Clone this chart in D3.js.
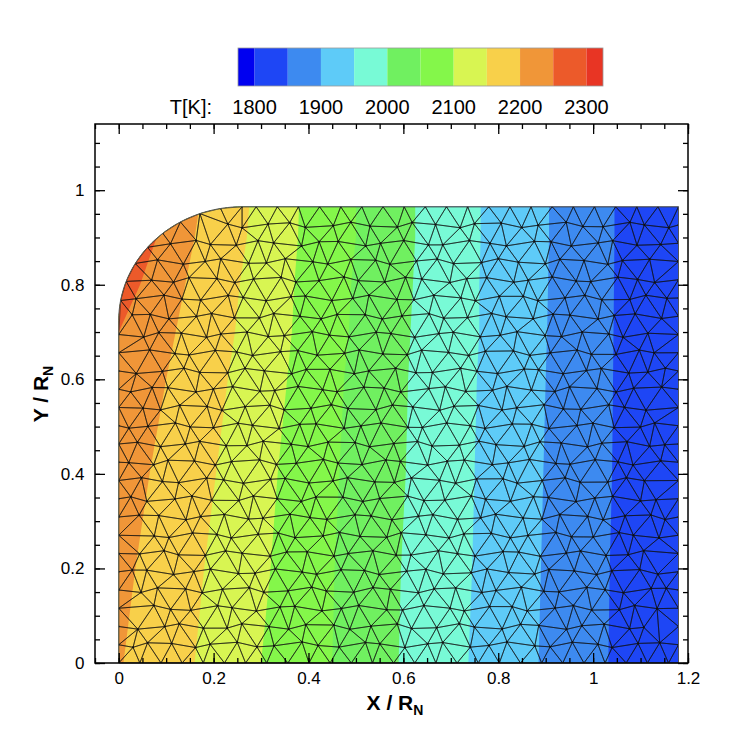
<!DOCTYPE html>
<html><head><meta charset="utf-8">
<script src="https://cdn.jsdelivr.net/npm/d3@7"></script>
<style>body{margin:0;background:#fff}svg{font-family:"Liberation Sans",Arial,sans-serif}</style>
</head><body><svg width="750" height="734"></svg>
<script>
// colour levels (K) and colours of the legend
const levels = [1800, 1850, 1900, 1950, 2000, 2050, 2100, 2150, 2200, 2250, 2300];
const levelColors = ["#0000f0", "#1e46f5", "#3d8af0", "#5ecbf8", "#78fad6", "#70f060",
  "#84f74a", "#d8f552", "#f8d04a", "#f09638", "#ec5a2a", "#e83524"];
const legendLabels = [1800, 1900, 2000, 2100, 2200, 2300];

// contour boundaries: x position of each isotherm at these y values
const ys = [0, 0.2, 0.4, 0.6, 0.7, 0.8, 0.9, 0.965];
const iso = {
  1850: [1.032, 1.035, 1.04, 1.042, 1.043, 1.044, 1.045, 1.045],
  1900: [0.885, 0.89, 0.895, 0.9, 0.903, 0.905, 0.907, 0.907],
  1950: [0.737, 0.745, 0.75, 0.755, 0.76, 0.76, 0.763, 0.763],
  2000: [0.59, 0.595, 0.605, 0.61, 0.615, 0.62, 0.625, 0.625],
  2050: [0.45, 0.455, 0.465, 0.475, 0.485, 0.49, 0.5, 0.5],
  2100: [0.30, 0.32, 0.335, 0.355, 0.365, 0.37, 0.378, 0.38],
  2150: [0.16, 0.18, 0.205, 0.23, 0.245, 0.255, 0.27, 0.275],
  2200: [0.01, 0.035, 0.065, 0.1, 0.12, 0.14, 0.16, 0.17],
  2250: [-0.1, -0.1, -0.1, -0.02, 0.0, 0.045, 0.08, 0.1]
};
// body outline
const bodyTop = 0.965, bodyRight = 1.18, cornerRx = 0.26, cornerRy = 0.24;

const svg = d3.select("svg");
const x = d3.scaleLinear().domain([-0.05, 1.2]).range([95, 688]);
const y = d3.scaleLinear().domain([0, 1.14]).range([663, 124]);

// outline polygon in data coords
const outline = [[0, 0]];
const cy0 = bodyTop - cornerRy;
const arc = [];
for (let i = 0; i <= 40; i++) {
  const a = Math.PI - (Math.PI / 2) * i / 40;
  arc.push([cornerRx + cornerRx * Math.cos(a), cy0 + cornerRy * Math.sin(a)]);
}
outline.push(...arc, [bodyRight, bodyTop], [bodyRight, 0]);
const outlinePx = outline.map(p => [x(p[0]), y(p[1])]);

svg.append("clipPath").attr("id", "body")
  .append("path").attr("d", "M" + outlinePx.join("L") + "Z");

const g = svg.append("g").attr("clip-path", "url(#body)");
g.append("rect").attr("x", x(-0.1)).attr("y", y(1.1)).attr("width", x(1.3) - x(-0.1))
  .attr("height", y(-0.1) - y(1.1)).attr("fill", levelColors[1]);
// each band: everything left of an isotherm gets the warmer colour
Object.keys(iso).map(Number).sort((a, b) => a - b).forEach(lv => {
  const xs = iso[lv];
  const pts = [[x(-0.2), y(-0.1)], [x(xs[0]), y(-0.1)]];
  ys.forEach((v, i) => pts.push([x(xs[i]), y(v)]));
  pts.push([x(xs[xs.length - 1]), y(1.1)], [x(-0.2), y(1.1)]);
  g.append("path").attr("d", "M" + pts.join("L") + "Z")
    .attr("fill", levelColors[levels.indexOf(lv) + 1]);
});

// triangular mesh: jittered hex lattice + boundary nodes
const rows = 25, rowH = bodyTop / rows, h = rowH / 0.866;
const meshPts = [];
function nearArc(p) {
  if (p[1] < cy0 || p[0] > cornerRx) return false;
  const dx = (p[0] - cornerRx) / cornerRx, dy = (p[1] - cy0) / cornerRy;
  return Math.hypot(dx, dy) > 1 - 0.5 * h / cornerRx;
}
for (let j = 0; j <= rows; j++) {
  const yy = j * rowH;
  const edge = j === 0 || j === rows;
  for (let i = -1; i * h <= bodyRight + h; i++) {
    let xx = i * h + (j % 2 ? h / 2 : 0) + (edge ? 0 : 0.008 * Math.sin(i * 2.3 + j * 1.7));
    const yj = yy + (edge ? 0 : 0.006 * Math.cos(i * 1.9 - j * 2.7));
    if (xx < 0.45 * h || xx > bodyRight - 0.45 * h) continue;
    const p = [xx, yj];
    if (edge && j === rows && xx < cornerRx) continue;
    if (!edge && (!d3.polygonContains(outline, p) || nearArc(p))) continue;
    meshPts.push(p);
  }
  if (yy <= cy0) meshPts.push([0, yy]);
  meshPts.push([bodyRight, yy]);
}
// nodes along the rounded corner
const arcLen = Math.PI / 2 * (cornerRx + cornerRy) / 2;
const nArc = Math.round(arcLen / h);
for (let k = 1; k <= nArc; k++) {
  const a = Math.PI - (Math.PI / 2) * k / nArc;
  meshPts.push([cornerRx + cornerRx * Math.cos(a), cy0 + cornerRy * Math.sin(a)]);
}
const pxPts = meshPts.map(p => [x(p[0]), y(p[1])]);
const tri = d3.Delaunay.from(pxPts).triangles;
let meshPath = "";
for (let t = 0; t < tri.length; t += 3) {
  const a = pxPts[tri[t]], b = pxPts[tri[t + 1]], c = pxPts[tri[t + 2]];
  const cen = [x.invert((a[0] + b[0] + c[0]) / 3), y.invert((a[1] + b[1] + c[1]) / 3)];
  if (!d3.polygonContains(outline, cen)) continue;
  meshPath += "M" + a + "L" + b + "L" + c + "Z";
}
g.append("path").attr("d", meshPath).attr("fill", "none")
  .attr("stroke", "#111").attr("stroke-width", 0.7).attr("stroke-opacity", 0.85);
g.append("g").selectAll("circle").data(pxPts).join("circle")
  .attr("cx", d => d[0]).attr("cy", d => d[1]).attr("r", 1).attr("fill", "#111");
svg.append("path").attr("d", "M" + outlinePx.join("L") + "Z")
  .attr("fill", "none").attr("stroke", "#555").attr("stroke-width", 1);

// axes with inward ticks on all sides
const fmt = d => String(+d.toFixed(2));
const xMajor = d3.range(0, 1.21, 0.2), yMajor = d3.range(0, 1.01, 0.2);
const xMinor = d3.range(-0.05, 1.201, 0.05), yMinor = d3.range(0, 1.141, 0.05);
function ax(axis, tr, ticks, size, labels) {
  const a = svg.append("g").attr("transform", tr)
    .call(axis.tickValues(ticks).tickSize(size).tickFormat(labels ? fmt : ""));
  a.select(".domain").remove();
  a.selectAll("line").attr("stroke", "#000").attr("stroke-width", 1.3);
  a.selectAll("text").attr("font-size", 17).attr("fill", "#000")
    .attr("font-family", "Liberation Sans, Arial, sans-serif");
  return a;
}
ax(d3.axisBottom(x), "translate(0,663)", xMinor, -5, false);
ax(d3.axisBottom(x), "translate(0,663)", xMajor, -10, true).selectAll("text").attr("dy", "1.05em");
ax(d3.axisTop(x), "translate(0,124)", xMinor, -5, false);
ax(d3.axisTop(x), "translate(0,124)", xMajor, -10, false);
ax(d3.axisLeft(y), "translate(95,0)", yMinor, -5, false);
ax(d3.axisLeft(y), "translate(95,0)", yMajor, -10, true).selectAll("text").attr("dx", "-0.45em");
ax(d3.axisRight(y), "translate(688,0)", yMinor, -5, false);
ax(d3.axisRight(y), "translate(688,0)", yMajor, -10, false);
svg.append("rect").attr("x", 95).attr("y", 124).attr("width", 593).attr("height", 539)
  .attr("fill", "none").attr("stroke", "#000").attr("stroke-width", 1.5);

// axis titles
const xt = svg.append("text").attr("x", 395).attr("y", 710).attr("text-anchor", "middle")
  .attr("font-size", 21).attr("font-weight", "bold");
xt.append("tspan").text("X / R");
xt.append("tspan").attr("font-size", 14).attr("dy", 5).text("N");
const yt = svg.append("text").attr("transform", "translate(48,394) rotate(-90)")
  .attr("text-anchor", "middle").attr("font-size", 21).attr("font-weight", "bold");
yt.append("tspan").text("Y / R");
yt.append("tspan").attr("font-size", 14).attr("dy", 5).text("N");

// colour legend
const lx = d3.scaleLinear().domain([1775, 2325]).range([238, 603]);
const edges = [1775, ...levels, 2325];
svg.append("g").selectAll("rect").data(levelColors).join("rect")
  .attr("x", (d, i) => lx(edges[i])).attr("y", 48)
  .attr("width", (d, i) => lx(edges[i + 1]) - lx(edges[i])).attr("height", 38)
  .attr("fill", d => d);
svg.append("rect").attr("x", 238).attr("y", 48).attr("width", 365).attr("height", 38)
  .attr("fill", "none").attr("stroke", "#999").attr("stroke-width", 0.8);
svg.append("g").selectAll("text").data(legendLabels).join("text")
  .attr("x", d => lx(d)).attr("y", 114).attr("text-anchor", "middle")
  .attr("font-size", 20).text(d => d);
svg.append("text").attr("x", 212).attr("y", 114).attr("text-anchor", "end")
  .attr("font-size", 20).text("T[K]:");
</script></body></html>
